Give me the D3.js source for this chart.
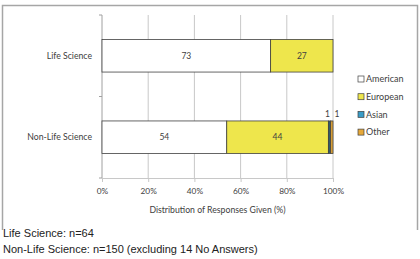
<!DOCTYPE html>
<html>
<head>
<meta charset="utf-8">
<script src="https://cdn.jsdelivr.net/npm/d3@7"></script>
<style>
  body { margin: 0; background: #fff; }
  svg { display: block; }
</style>
</head>
<body>
<div id="chart"></div>
<script>
const categories = ["Life Science", "Non-Life Science"];
const seriesNames = ["American", "European", "Asian", "Other"];
const american = [73, 54];
const european = [27, 44];
const asian = [0, 1];
const other = [0, 1];
const xTicks = [0, 20, 40, 60, 80, 100];
const notes = ["Life Science: n=64", "Non-Life Science: n=150 (excluding 14 No Answers)"];

const colors = ["#ffffff", "#eee64c", "#3a9cc6", "#e6a838"];
const width = 420, height = 259;
const plot = { left: 102, right: 333, top: 15, bottom: 178 };
const chartFont = "Lato, 'Open Sans', sans-serif";

const svg = d3.select("#chart").append("svg")
    .attr("width", width)
    .attr("height", height);

// outer chart frame (open at the bottom)
svg.append("path")
    .attr("d", "M2.5,230 V5.5 H417.5 V230")
    .attr("fill", "none")
    .attr("stroke", "#a6a6a6")
    .attr("stroke-width", 1.5);

const x = d3.scaleLinear().domain([0, 100]).range([plot.left, plot.right]);
const y = d3.scaleBand().domain(categories).range([plot.top, plot.bottom]).paddingInner(0.6).paddingOuter(0.3);

// gridlines
svg.selectAll("line.grid")
    .data(xTicks.slice(1))
    .enter()
    .append("line")
    .attr("class", "grid")
    .attr("x1", d => x(d)).attr("x2", d => x(d))
    .attr("y1", plot.top).attr("y2", plot.bottom)
    .attr("stroke", "#c8c8c8");

// x axis
const xAxis = svg.append("g")
    .attr("transform", `translate(0,${plot.bottom})`)
    .call(d3.axisBottom(x).tickValues(xTicks).tickFormat(d => d + "%").tickSize(4).tickPadding(6));
xAxis.select(".domain").attr("stroke", "#c8c8c8");
xAxis.selectAll(".tick line").attr("stroke", "#c8c8c8");
xAxis.selectAll("text").attr("fill", "#404040").style("font", `8.3px ${chartFont}`);

// y axis line with boundary ticks
svg.append("line")
    .attr("x1", plot.left).attr("x2", plot.left)
    .attr("y1", plot.top).attr("y2", plot.bottom)
    .attr("stroke", "#a0a0a0");
const yTicks = [plot.top, (plot.top + plot.bottom) / 2, plot.bottom];
svg.selectAll("line.ytick")
    .data(yTicks)
    .enter()
    .append("line")
    .attr("class", "ytick")
    .attr("x1", plot.left - 3).attr("x2", plot.left)
    .attr("y1", d => d).attr("y2", d => d)
    .attr("stroke", "#a0a0a0");

svg.selectAll("text.cat")
    .data(categories)
    .enter()
    .append("text")
    .attr("class", "cat")
    .attr("x", plot.left - 10)
    .attr("y", d => y(d) + y.bandwidth() / 2)
    .attr("dy", ".35em")
    .attr("text-anchor", "end")
    .attr("fill", "#404040")
    .style("font", `8.7px ${chartFont}`)
    .text(d => d);

// stacked segments
const values = [american, european, asian, other];
const rows = categories.map((c, i) => {
    let acc = 0;
    return values.map((v, s) => {
        const seg = { cat: c, series: s, x0: acc, x1: acc + v[i], value: v[i] };
        acc += v[i];
        return seg;
    }).filter(d => d.value > 0);
});
const segments = rows.flat();

svg.selectAll("rect.seg")
    .data(segments)
    .enter()
    .append("rect")
    .attr("class", "seg")
    .attr("x", d => x(d.x0))
    .attr("y", d => y(d.cat))
    .attr("width", d => x(d.x1) - x(d.x0))
    .attr("height", y.bandwidth())
    .attr("fill", d => d.series === 2 ? "#2f5e6a" : colors[d.series])
    .attr("stroke", "#404040")
    .attr("stroke-width", 0.8);

// labels: big segments inside, small ones above the bar
svg.selectAll("text.val")
    .data(segments)
    .enter()
    .append("text")
    .attr("class", "val")
    .attr("x", d => {
        if (d.value > 5) return x((d.x0 + d.x1) / 2);
        return d.series === 2 ? x(d.x0) - 1 : x(d.x1) + 4;
    })
    .attr("y", d => d.value > 5 ? y(d.cat) + y.bandwidth() / 2 : y(d.cat) - 7)
    .attr("dy", ".35em")
    .attr("text-anchor", "middle")
    .attr("fill", "#404040")
    .style("font", `8.5px ${chartFont}`)
    .text(d => d.value);

// axis title
svg.append("text")
    .attr("x", (plot.left + plot.right) / 2)
    .attr("y", 213)
    .attr("text-anchor", "middle")
    .attr("fill", "#404040")
    .style("font", `8.7px ${chartFont}`)
    .text("Distribution of Responses Given (%)");

// legend
const legend = svg.selectAll("g.legend")
    .data(seriesNames)
    .enter()
    .append("g")
    .attr("class", "legend")
    .attr("transform", (d, i) => `translate(358,${79 + i * 17.7})`);
legend.append("rect")
    .attr("x", 0).attr("y", -3)
    .attr("width", 6).attr("height", 6)
    .attr("fill", (d, i) => colors[i])
    .attr("stroke", "#404040")
    .attr("stroke-width", 0.7);
legend.append("text")
    .attr("x", 8)
    .attr("dy", ".35em")
    .attr("fill", "#404040")
    .style("font", `9px ${chartFont}`)
    .text(d => d);

// notes below the chart
svg.selectAll("text.note")
    .data(notes)
    .enter()
    .append("text")
    .attr("class", "note")
    .attr("x", 3)
    .attr("y", (d, i) => 237 + i * 16)
    .attr("fill", "#222")
    .style("font", "11px 'Liberation Sans', Arial, sans-serif")
    .text(d => d);
</script>
</body>
</html>
